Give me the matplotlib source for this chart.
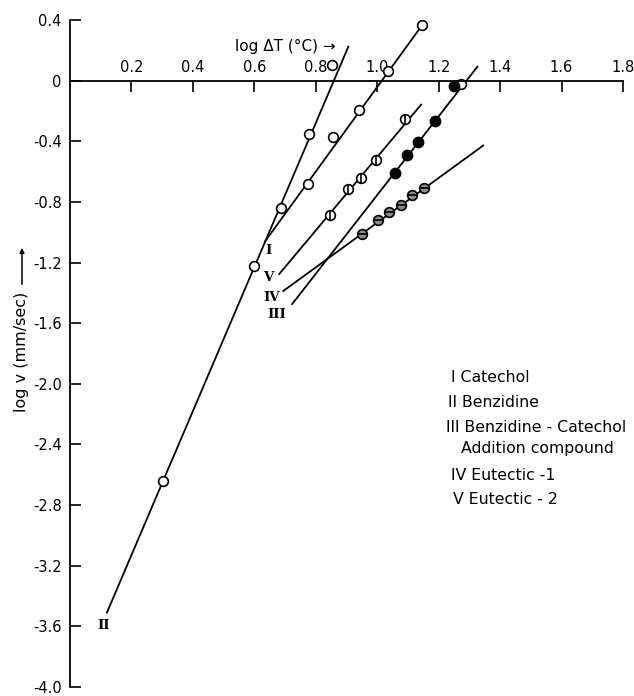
import matplotlib
matplotlib.use('Agg')
import matplotlib.pyplot as plt
import numpy as np

# log dT (x) vs log v (y) per compound
names = ['I', 'II', 'III', 'IV', 'V']
legend_lines = ['I Catechol', 'II Benzidine', 'III Benzidine - Catechol',
                '   Addition compound', 'IV Eutectic -1', 'V Eutectic - 2']

x_I = [0.775, 0.857, 0.941, 1.036, 1.147]
y_I = [-0.684, -0.375, -0.197, 0.066, 0.368]
fit_x_I = [0.635, 1.147]
fit_y_I = [-1.06, 0.368]

x_II = [0.303, 0.599, 0.687, 0.779, 0.853]
y_II = [-2.64, -1.22, -0.84, -0.355, 0.105]
fit_x_II = [0.12, 0.906]
fit_y_II = [-3.51, 0.224]

x_III = [1.059, 1.098, 1.134, 1.189, 1.251]
y_III = [-0.612, -0.493, -0.408, -0.263, -0.033]
fit_x_III = [0.723, 1.326]
fit_y_III = [-1.474, 0.092]

x_IV = [0.951, 1.003, 1.039, 1.078, 1.114, 1.153]
y_IV = [-1.013, -0.921, -0.868, -0.822, -0.757, -0.711]
fit_x_IV = [0.694, 1.345]
fit_y_IV = [-1.388, -0.428]

x_V = [0.847, 0.906, 0.948, 0.997, 1.091]
y_V = [-0.888, -0.717, -0.645, -0.526, -0.250]
fit_x_V = [0.681, 1.143]
fit_y_V = [-1.276, -0.158]

# extra open point hidden behind the top filled one
x_extra = [1.272]
y_extra = [-0.02]

label_x = [0.645, 0.108, 0.672, 0.655, 0.645]
label_y = [-1.12, -3.595, -1.54, -1.43, -1.30]

xticks = [0.2, 0.4, 0.6, 0.8, 1.0, 1.2, 1.4, 1.6, 1.8]
yticks = [0.4, 0, -0.4, -0.8, -1.2, -1.6, -2.0, -2.4, -2.8, -3.2, -3.6, -4.0]

fig = plt.figure(figsize=(6.34, 6.96), dpi=100)
ax = fig.add_axes([70 / 634, 9 / 696, 553 / 634, 667 / 696])
ax.set_xlim(0, 1.8)
ax.set_ylim(-4.0, 0.4)

lw = 1.3
ms = 7
ax.plot(fit_x_I, fit_y_I, color='black', lw=lw)
ax.plot(fit_x_II, fit_y_II, color='black', lw=lw)
ax.plot(fit_x_III, fit_y_III, color='black', lw=lw)
ax.plot(fit_x_IV, fit_y_IV, color='black', lw=lw)
ax.plot(fit_x_V, fit_y_V, color='black', lw=lw)

ax.plot(x_I, y_I, 'o', ms=ms, mfc='white', mec='black', mew=1.2)
ax.plot(x_II, y_II, 'o', ms=ms, mfc='white', mec='black', mew=1.2)
ax.plot(x_extra, y_extra, 'o', ms=ms, mfc='white', mec='black', mew=1.2)
ax.plot(x_III, y_III, 'o', ms=ms + 0.5, mfc='black', mec='black')
ax.plot(x_IV, y_IV, 'o', ms=ms, mfc='0.55', mec='black', mew=1.2)
ax.plot(x_IV, y_IV, '_', ms=ms, mec='black', mew=1.2)
ax.plot(x_V, y_V, 'o', ms=ms, mfc='white', mec='black', mew=1.2)
ax.plot(x_V, y_V, '|', ms=ms, mec='black', mew=1.2)

for n, lx, ly in zip(names, label_x, label_y):
    ax.text(lx, ly, n, family='DejaVu Serif', fontsize=9.5, fontweight='bold',
            ha='center', va='center')

# axes: x axis drawn along y = 0 with labels above it
for s in ['right', 'bottom']:
    ax.spines[s].set_visible(False)
ax.spines['top'].set_position(('data', 0))
ax.spines['top'].set_linewidth(1.3)
ax.spines['left'].set_linewidth(1.3)
ax.xaxis.tick_top()
ax.set_xticks(xticks)
ax.set_xticklabels(['%.1f' % t for t in xticks])
ax.tick_params(axis='x', direction='in', length=8, width=1.2, labelsize=10.5, pad=4)
ax.set_yticks(yticks)
ax.set_yticklabels(['0' if t == 0 else '%.1f' % t for t in yticks])
ax.tick_params(axis='y', direction='in', length=8, width=1.2, labelsize=10.5, pad=6)

ax.text(0.537, 0.224, 'log \u0394T (\u00b0C) \u2192', fontsize=11, ha='left', va='center')

fig.text(22 / 634, 1 - 352 / 696, 'log v (mm/sec)', rotation=90, fontsize=11.5,
         ha='center', va='center')
fig.add_artist(matplotlib.patches.FancyArrowPatch(
    (22 / 634, 1 - 287 / 696), (22 / 634, 1 - 245 / 696),
    transform=fig.transFigure, arrowstyle='-|>', mutation_scale=7,
    color='black', lw=1.1))

legend_y = [378, 403, 428, 449, 475, 500]
legend_x = [451, 448, 446, 446, 451, 453]
for t, lx, ly in zip(legend_lines, legend_x, legend_y):
    fig.text(lx / 634, 1 - ly / 696, t, fontsize=11.3, ha='left', va='center')

fig.savefig('out.png', dpi=100)
